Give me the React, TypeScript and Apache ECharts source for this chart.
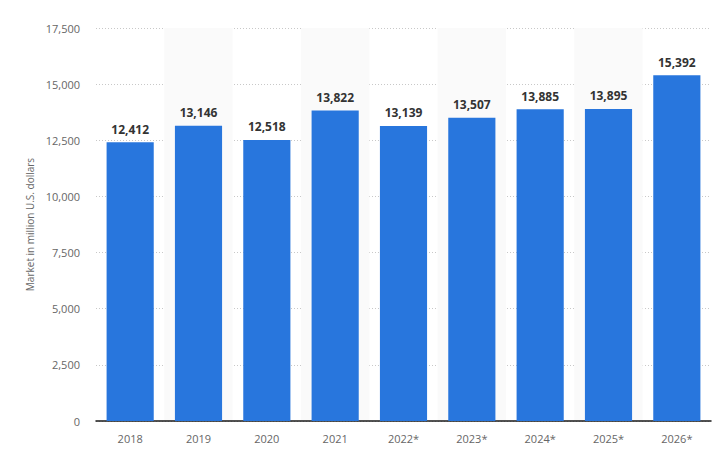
import React, { useEffect, useRef } from "react";
import * as echarts from "echarts";

const categories = ["2018", "2019", "2020", "2021", "2022*", "2023*", "2024*", "2025*", "2026*"];
const values = [12412, 13146, 12518, 13822, 13139, 13507, 13885, 13895, 15392];
const yTicks = { min: 0, max: 17500, interval: 2500 };
const yAxisTitle = "Market in million U.S. dollars";

export default function App() {
  const ref = useRef<HTMLDivElement>(null);
  useEffect(() => {
    const chart = echarts.init(ref.current!, null, { renderer: "svg" });
    chart.setOption({
      animation: false,
      grid: { left: 96, right: 7, top: 28, bottom: 32 },
      xAxis: {
        type: "category",
        data: categories,
        axisLine: { lineStyle: { color: "#1a1a1a", width: 1.5 } },
        axisTick: { show: false },
        axisLabel: { color: "#666", fontSize: 11, fontFamily: "Open Sans", margin: 12 },
        splitArea: { show: true, areaStyle: { color: ["rgba(255,255,255,0)", "#fafafa"] } },
      },
      yAxis: {
        type: "value",
        min: yTicks.min,
        max: yTicks.max,
        interval: yTicks.interval,
        name: yAxisTitle,
        nameLocation: "middle",
        nameGap: 60,
        nameTextStyle: { color: "#666", fontSize: 10, fontFamily: "Open Sans" },
        axisLine: { show: false },
        axisTick: { show: false },
        axisLabel: {
          color: "#666",
          fontSize: 11,
          fontFamily: "Open Sans",
          margin: 16,
          formatter: (v: number) => v.toLocaleString("en-US"),
        },
        splitLine: { lineStyle: { color: "#c8c8c8", type: [1, 2] } },
      },
      series: [
        {
          type: "bar",
          data: values,
          barCategoryGap: "31%",
          itemStyle: { color: "#2876dd" },
          label: {
            show: true,
            position: "top",
            distance: 7,
            color: "#333",
            fontSize: 12,
            fontWeight: "bold",
            fontFamily: "Open Sans",
            formatter: (p: any) => Number(p.value).toLocaleString("en-US"),
          },
        },
      ],
    });
    return () => chart.dispose();
  }, []);
  return <div ref={ref} style={{ width: 718, height: 453, position: "absolute", left: 0, top: 0 }} />;
}
